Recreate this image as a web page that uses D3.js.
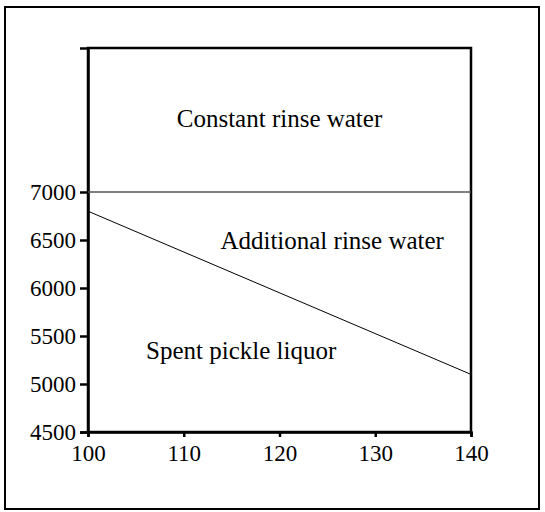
<!DOCTYPE html>
<html>
<head>
<meta charset="utf-8">
<script src="https://cdn.jsdelivr.net/npm/d3@7"></script>
<style>
  html, body { margin: 0; padding: 0; background: #fff; }
  svg { display: block; }
  text { font-family: "Liberation Serif", "Times New Roman", serif; fill: #000; }
</style>
</head>
<body>
<script>
// Chloride balance: constant rinse water level and spent pickle liquor line
const xDomain = [100, 140];
const yDomain = [4500, 8500];
const xTicks = [100, 110, 120, 130, 140];
const yTicks = [4500, 5000, 5500, 6000, 6500, 7000];

const constantRinseX = [100, 140];
const constantRinseY = [7000, 7000];

const pickleX = [100, 140];
const pickleY = [6800, 5100];

const regionLabels = ["Constant rinse water", "Additional rinse water", "Spent pickle liquor"];
const regionLabelX = [120, 125.5, 116];
const regionLabelY = [7770, 6500, 5350];

const W = 545, H = 512;
const margin = { left: 88, right: 74, top: 48, bottom: 80 };
const serif = "'Liberation Serif', 'Times New Roman', serif";

const svg = d3.select("body").append("svg").attr("width", W).attr("height", H);

// outer frame
svg.append("rect")
  .attr("x", 5).attr("y", 7).attr("width", 534).attr("height", 502)
  .attr("fill", "none").attr("stroke", "#000").attr("stroke-width", 2);

const x = d3.scaleLinear().domain(xDomain).range([margin.left, W - margin.right]);
const y = d3.scaleLinear().domain(yDomain).range([H - margin.bottom, margin.top]);

// plot box
svg.append("rect")
  .attr("x", x(xDomain[0])).attr("y", y(yDomain[1]))
  .attr("width", x(xDomain[1]) - x(xDomain[0]))
  .attr("height", y(yDomain[0]) - y(yDomain[1]))
  .attr("fill", "none").attr("stroke", "#000").attr("stroke-width", 2.5);

const yAxis = svg.append("g")
  .attr("transform", `translate(${x(xDomain[0])},0)`)
  .call(d3.axisLeft(y).tickValues(yTicks).tickSize(8).tickPadding(4).tickFormat(d3.format("d")));
const xAxis = svg.append("g")
  .attr("transform", `translate(0,${y(yDomain[0])})`)
  .call(d3.axisBottom(x).tickValues(xTicks).tickSize(5).tickPadding(8).tickFormat(d3.format("d")));

[yAxis, xAxis].forEach(g => {
  g.attr("font-family", serif).attr("font-size", 23);
  g.select(".domain").attr("stroke", "#000").attr("stroke-width", 2.5);
  g.selectAll(".tick line").attr("stroke", "#000").attr("stroke-width", 2.5);
  g.selectAll(".tick text")
    .style("font-family", serif)
    .style("font-size", "23px")
    .attr("fill", "#000");
});

const line = d3.line().x(d => x(d[0])).y(d => y(d[1]));

svg.append("path")
  .datum(d3.zip(constantRinseX, constantRinseY))
  .attr("d", line).attr("fill", "none").attr("stroke", "#555").attr("stroke-width", 1.5);

svg.append("path")
  .datum(d3.zip(pickleX, pickleY))
  .attr("d", line).attr("fill", "none").attr("stroke", "#000").attr("stroke-width", 1);

svg.selectAll("text.region")
  .data(regionLabels)
  .enter().append("text")
  .attr("class", "region")
  .attr("x", (d, i) => x(regionLabelX[i]))
  .attr("y", (d, i) => y(regionLabelY[i]))
  .attr("text-anchor", "middle")
  .attr("dominant-baseline", "central")
  .style("font-family", serif)
  .style("font-size", "25px")
  .text(d => d);
</script>
</body>
</html>
